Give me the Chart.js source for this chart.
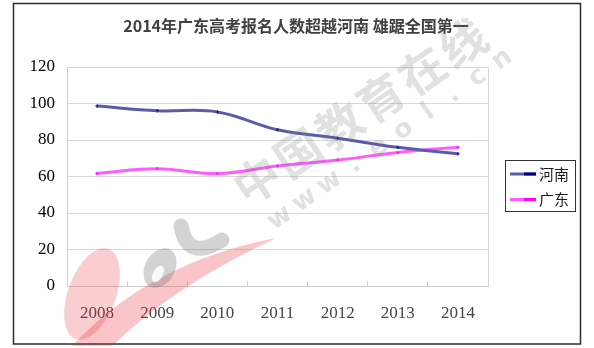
<!DOCTYPE html>
<html>
<head>
<meta charset="utf-8">
<script src="https://cdn.jsdelivr.net/npm/chart.js@4/dist/chart.umd.min.js"></script>
<style>
  html, body { margin: 0; padding: 0; background: #fff; }
  #wrap { width: 594px; height: 348px; position: relative; }
</style>
</head>
<body>
<div id="wrap"><canvas id="chart" width="594" height="348"></canvas></div>
<script>
// enrolment, in ten-thousands
const years = ['2008', '2009', '2010', '2011', '2012', '2013', '2014'];
const henan = [98.6, 96, 95.4, 85.6, 81, 76, 72.4];
const guangdong = [61.7, 64.2, 61.6, 65.8, 69, 73.2, 76];
const yTicks = [0, 20, 40, 60, 80, 100, 120];
const titleText = '2014年广东高考报名人数超越河南 雄踞全国第一';

// title, outer frame, plot border, legend box and the site watermark
const decor = {
    id: 'decor',
    beforeDatasetsDraw(chart) {
        const { ctx, chartArea: a } = chart;
        ctx.save();
        ctx.strokeStyle = '#d4d4d4';
        ctx.lineWidth = 1;
        ctx.beginPath();
        ctx.moveTo(a.left, a.top + 0.5);
        ctx.lineTo(a.right + 0.5, a.top + 0.5);
        ctx.lineTo(a.right + 0.5, a.bottom);
        ctx.stroke();
        ctx.restore();
    },
    afterDraw(chart) {
        const ctx = chart.ctx;
        ctx.save();

        // title
        ctx.fillStyle = '#404040';
        ctx.font = 'bold 16px "Noto Sans CJK SC"';
        ctx.textAlign = 'center';
        ctx.textBaseline = 'middle';
        ctx.fillText(titleText, 296, 26);

        // frame
        ctx.strokeStyle = '#2a2a2a';
        ctx.lineWidth = 1.5;
        ctx.strokeRect(13.5, 3.5, 567, 340.5);

        // legend
        ctx.strokeStyle = '#333';
        ctx.lineWidth = 1;
        ctx.strokeRect(505.5, 160.5, 70, 51);
        ctx.font = '15px "Noto Sans CJK SC"';
        ctx.textAlign = 'left';
        chart.data.datasets.forEach((ds, i) => {
            const y = 174 + i * 25.5;
            ctx.lineWidth = 3;
            ctx.strokeStyle = ds.borderColor;
            ctx.beginPath();
            ctx.moveTo(510, y);
            ctx.lineTo(536, y);
            ctx.stroke();
            ctx.strokeStyle = ds.pointBackgroundColor;
            ctx.beginPath();
            ctx.moveTo(524, y);
            ctx.lineTo(536, y);
            ctx.stroke();
            ctx.fillStyle = '#1a1a1a';
            ctx.fillText(ds.label, 539, y);
        });

        // watermark logo
        ctx.fillStyle = 'rgba(235, 45, 60, 0.24)';
        ctx.beginPath();
        ctx.ellipse(92, 294, 24, 48, 0.35, 0, Math.PI * 2);
        ctx.fill();
        ctx.fillStyle = 'rgba(235, 45, 60, 0.28)';
        ctx.beginPath();
        ctx.moveTo(72, 346);
        ctx.quadraticCurveTo(150, 262, 276, 238);
        ctx.quadraticCurveTo(175, 285, 112, 346);
        ctx.closePath();
        ctx.fill();

        ctx.fillStyle = 'rgba(110, 110, 110, 0.3)';
        ctx.beginPath();
        ctx.ellipse(160, 268, 15, 21, 0.5, 0, Math.PI * 2);
        ctx.fill();
        ctx.fillStyle = 'rgba(255, 255, 255, 0.85)';
        ctx.beginPath();
        ctx.ellipse(158, 274, 5, 9, 0.5, 0, Math.PI * 2);
        ctx.fill();
        ctx.strokeStyle = 'rgba(110, 110, 110, 0.3)';
        ctx.lineWidth = 15;
        ctx.lineCap = 'round';
        ctx.beginPath();
        ctx.moveTo(181, 226);
        ctx.quadraticCurveTo(188, 262, 222, 240);
        ctx.stroke();

        // watermark text
        ctx.fillStyle = 'rgba(120, 120, 120, 0.22)';
        ctx.textAlign = 'center';
        ctx.font = 'bold 46px "Noto Sans CJK SC"';
        const big = '中国教育在线';
        for (let i = 0; i < big.length; i++) {
            ctx.save();
            ctx.translate(257 + i * 41.2, 180 - i * 27.4);
            ctx.rotate(-0.59);
            ctx.fillText(big[i], 0, 0);
            ctx.restore();
        }
        ctx.font = 'bold 26px "DejaVu Sans"';
        const url = 'www.eol.cn';
        for (let i = 0; i < url.length; i++) {
            ctx.save();
            ctx.translate(280 + i * 24.7, 218 - i * 17.6);
            ctx.rotate(-0.61);
            ctx.fillText(url[i], 0, 0);
            ctx.restore();
        }
        ctx.restore();
    }
};

new Chart(document.getElementById('chart'), {
    type: 'line',
    data: {
        labels: years,
        datasets: [{
            label: '河南',
            data: henan,
            borderColor: '#5b5bab',
            pointBackgroundColor: '#000080',
            pointBorderColor: '#4a4aa0',
            borderWidth: 3,
            tension: 0.4,
            pointStyle: 'rectRot',
            pointRadius: 1.5,
            pointBorderWidth: 1
        }, {
            label: '广东',
            data: guangdong,
            borderColor: '#ff5cff',
            pointBackgroundColor: '#ff00ff',
            pointBorderColor: '#ff44ff',
            borderWidth: 3,
            tension: 0.4,
            pointStyle: 'rectRot',
            pointRadius: 1.5,
            pointBorderWidth: 1
        }]
    },
    options: {
        responsive: false,
        animation: false,
        layout: { padding: { left: 13, right: 106, top: 67, bottom: 0 } },
        plugins: {
            legend: { display: false },
            tooltip: { enabled: false },
            title: { display: false }
        },
        scales: {
            x: {
                offset: true,
                grid: {
                    offset: true,
                    drawOnChartArea: false,
                    tickLength: -5,
                    color: '#d0d0d0'
                },
                border: { color: '#cfcfcf' },
                ticks: {
                    color: '#454545',
                    padding: 22,
                    font: { family: '"Liberation Serif"', size: 17 }
                },
                afterFit(scale) { scale.height = 62; }
            },
            y: {
                min: 0,
                max: 120,
                afterBuildTicks(scale) { scale.ticks = yTicks.map(v => ({ value: v })); },
                grid: { color: '#d8d8d8', drawTicks: false },
                border: { color: '#d0d0d0' },
                ticks: {
                    color: '#000',
                    padding: 12,
                    font: { family: '"Liberation Serif"', size: 17 }
                },
                afterFit(scale) { scale.width = 54; }
            }
        }
    },
    plugins: [decor]
});
</script>
</body>
</html>
